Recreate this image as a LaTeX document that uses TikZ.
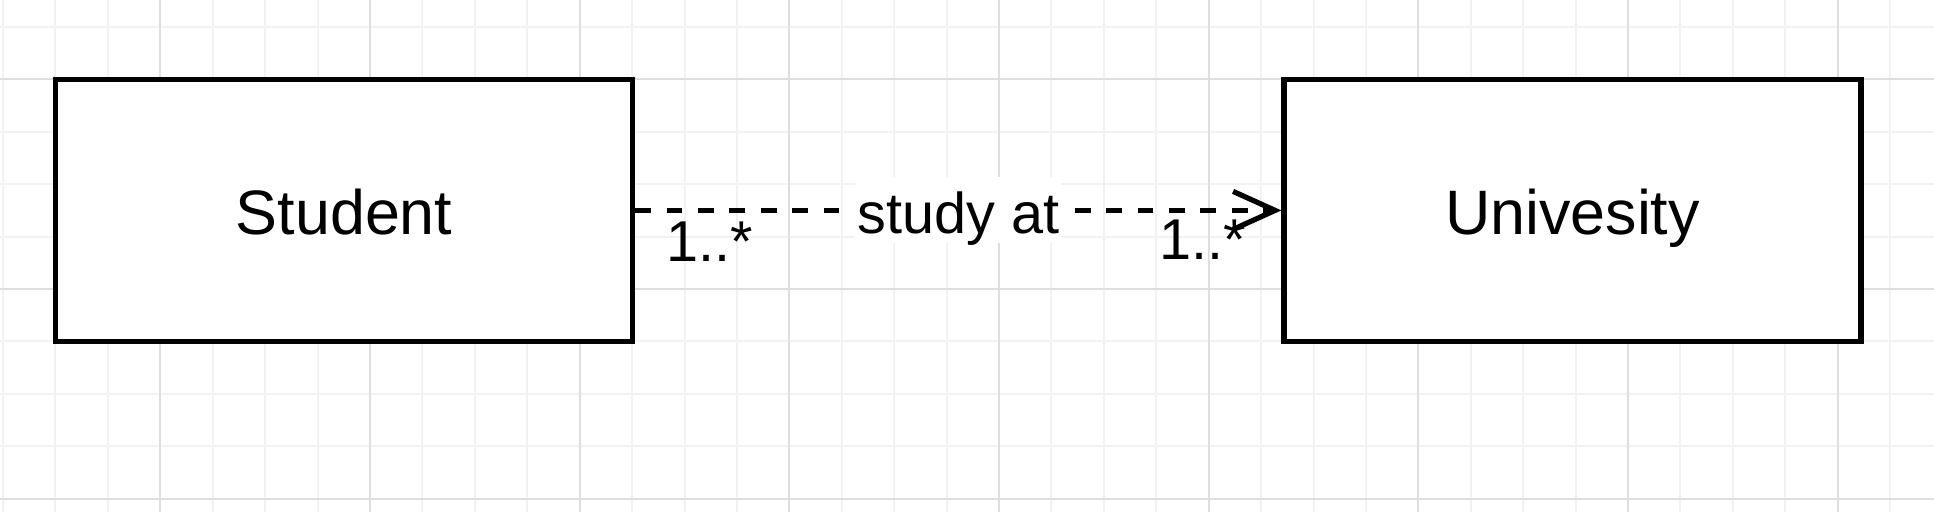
\documentclass[tikz,border=0pt]{standalone}
\usepackage{fontspec}
\setmainfont{Liberation Sans}
\usetikzlibrary{arrows.meta}
\definecolor{gridminor}{RGB}{242,242,242}
\definecolor{gridmajor}{RGB}{222,222,222}
\begin{document}
\begin{tikzpicture}[x=0.5pt,y=-0.5pt,
  entity/.style={draw=black, fill=white, line width=2.6pt, minimum width=288.5pt,
    minimum height=131.2pt, inner sep=0pt, font=\fontsize{31.4pt}{36pt}\selectfont,
    text height=30pt, text depth=6pt},
  assoc/.style={draw=black, line width=2.6pt, dash pattern=on 7.85pt off 7.85pt,
    -{Straight Barb[length=21pt,width=19pt]}},
  elabel/.style={font=\fontsize{28.8pt}{34pt}\selectfont, inner sep=0pt},
  minorline/.style={draw=gridminor, line width=1pt},
  majorline/.style={draw=gridmajor, line width=1pt}]
  % background and bounding box
  \fill[white] (0,0) rectangle (1934,512);
  \useasboundingbox (0,0) rectangle (1934,512);
  % grid
  \foreach \k in {0,...,36} {
    \pgfmathsetmacro\xx{3.04+52.42*\k}
    \draw[minorline] (\xx,0) -- (\xx,512);
  }
  \foreach \k in {0,...,9} {
    \pgfmathsetmacro\yy{26.9+52.42*\k}
    \draw[minorline] (0,\yy) -- (1934,\yy);
  }
  \foreach \k in {3,7,...,35} {
    \pgfmathsetmacro\xx{3.04+52.42*\k}
    \draw[majorline] (\xx,0) -- (\xx,512);
  }
  \foreach \k in {1,5,9} {
    \pgfmathsetmacro\yy{26.9+52.42*\k}
    \draw[majorline] (0,\yy) -- (1934,\yy);
  }
  % entities
  \node[entity] (s) at (344.1,210.4) {Student};
  \node[entity] (u) at (1572.5,210.4) {Univesity};
  % association
  \draw[assoc] (s.east) -- node[elabel, fill=white, inner xsep=1pt, inner ysep=1pt,
      text height=27pt, text depth=4pt] (lbl) {study at} (u.west);
  \node[elabel, anchor=base west] (m1) at (666,261.7) {1..*};
  \node[elabel, anchor=base west] (m2) at (1159,260) {1..*};
\end{tikzpicture}
\end{document}
